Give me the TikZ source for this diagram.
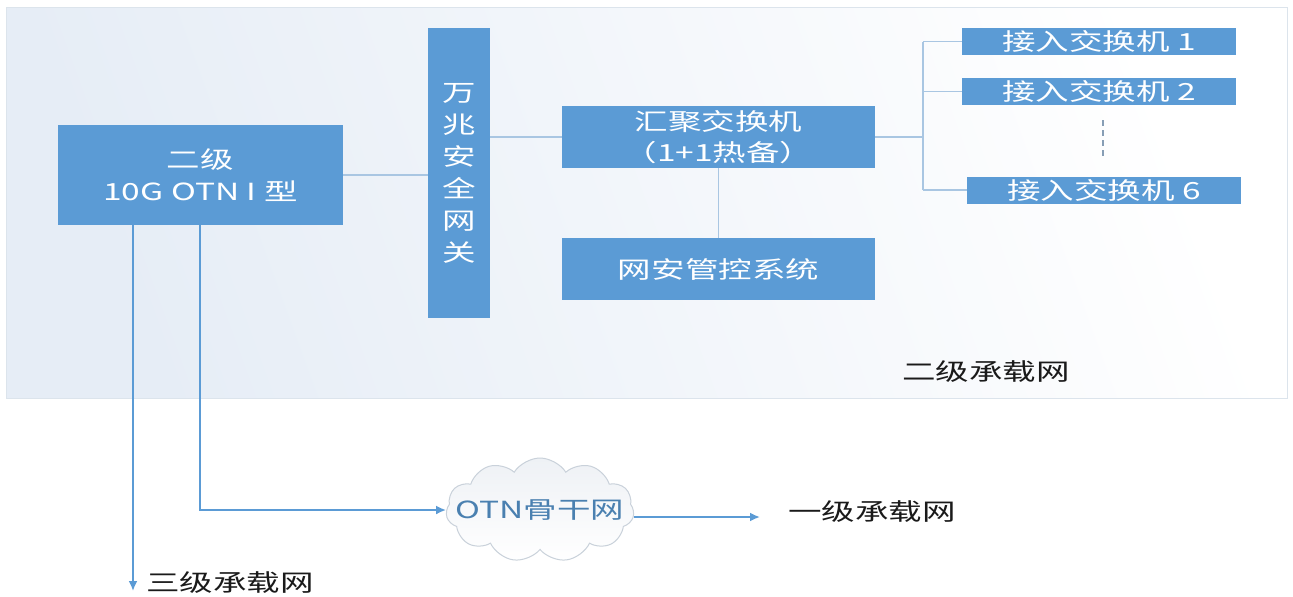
\documentclass[tikz,border=0pt]{standalone}
\usepackage{fontspec}
\setmainfont{Noto Sans CJK SC}[FakeStretch=1.42]
\usetikzlibrary{shapes.symbols,arrows.meta}
\definecolor{boxblue}{HTML}{5B9BD5}
\definecolor{linkblue}{HTML}{A9C6E2}
\definecolor{arrblue}{HTML}{5B9BD5}
\definecolor{labelblack}{HTML}{1A1A1A}
\definecolor{cloudtext}{HTML}{4A80B0}
\definecolor{panelbg}{HTML}{E6EDF6}
\definecolor{panelborder}{HTML}{DCE4EC}
\definecolor{cloudedge}{HTML}{C9D1DA}
\definecolor{cloudfill}{HTML}{EEF1F5}
\newcommand\tf{\fontsize{11.8}{16}\selectfont}
\begin{document}
\begin{tikzpicture}[x=0.5pt,y=-0.5pt,
  box/.style={fill=boxblue, text=white, inner sep=0pt, align=center, font=\tf},
  link/.style={draw=linkblue, line width=0.6pt},
  arr/.style={draw=arrblue, line width=1.4pt, -{Latex[length=5pt,width=4.5pt]}},
  lbl/.style={text=labelblack, font=\tf, inner sep=0pt},
  dots/.style={draw=linkblue!80!black, line width=0.6pt, dash pattern=on 3pt off 2pt}]
\useasboundingbox (0,0) rectangle (1293,596);
\fill[white] (0,0) rectangle (1293,596);
% panel
\shade[left color=panelbg, right color=white, shading angle=110] (6,7) rectangle (1287,398);
\draw[panelborder, line width=0.5pt] (6,7) rectangle (1287,398);
% boxes
\node[box, minimum width=142.5pt, minimum height=50pt] (otn) at (200.5,175) {二级\\10G OTN I 型};
\node[box, minimum width=31pt, minimum height=145pt] (gw) at (459,173) {万\\兆\\安\\全\\网\\关};
\node[box, minimum width=156.5pt, minimum height=31pt, font=\fontsize{11.8}{15.5}\selectfont] (hj) at (718.5,137) {汇聚交换机\\（1+1热备）};
\node[box, minimum width=156.5pt, minimum height=31pt] (wa) at (718.5,269) {网安管控系统};
\node[box, minimum width=137pt, minimum height=13.5pt] (a1) at (1099,41.5) {接入交换机 1};
\node[box, minimum width=137pt, minimum height=13.5pt] (a2) at (1099,91.5) {接入交换机 2};
\node[box, minimum width=137pt, minimum height=13.5pt] (a6) at (1104,190) {接入交换机 6};
% inner links
\draw[link] (otn.east) -- (otn.east -| gw.west);
\draw[link] (gw.east |- hj.west) -- (hj.west);
\draw[link] (hj.south) -- (wa.north);
\coordinate (br) at (923,137);
\draw[link] (hj.east) -- (br);
\draw[link] (br |- a1.west) -- (br |- a6.west);
\draw[link] (br |- a1.west) -- (a1.west);
\draw[link] (br |- a2.west) -- (a2.west);
\draw[link] (br |- a6.west) -- (a6.west);
\coordinate (d1) at (1103,120);
\coordinate (d2) at (1103,156);
\draw[dots] (d1) -- (d2);
% panel label
\node[lbl] (l2) at (986,372) {二级承载网};
% cloud
\node[cloud, cloud puffs=11, cloud puff arc=115, aspect=1.8, draw=cloudedge, line width=0.5pt,
  top color=cloudfill, bottom color=white, minimum width=94pt, minimum height=52pt, inner sep=0pt] (cl) at (540,510) {};
\node[text=cloudtext, font=\tf, inner sep=0pt] (clt) at (cl.center) {OTN骨干网};
% arrows
\coordinate (a3end) at (133,591);
\draw[arr] (otn.south -| a3end) -- (a3end);
\node[lbl, anchor=west] (l3) at (146,583) {三级承载网};
\coordinate (bk) at (200,225);
\draw[arr] (otn.south -| bk) |- (cl.west);
\coordinate (a1end) at (760,517);
\draw[arr] (cl.east |- a1end) -- (a1end);
\node[lbl, anchor=west] (l1) at (788,512) {一级承载网};
\end{tikzpicture}
\end{document}
